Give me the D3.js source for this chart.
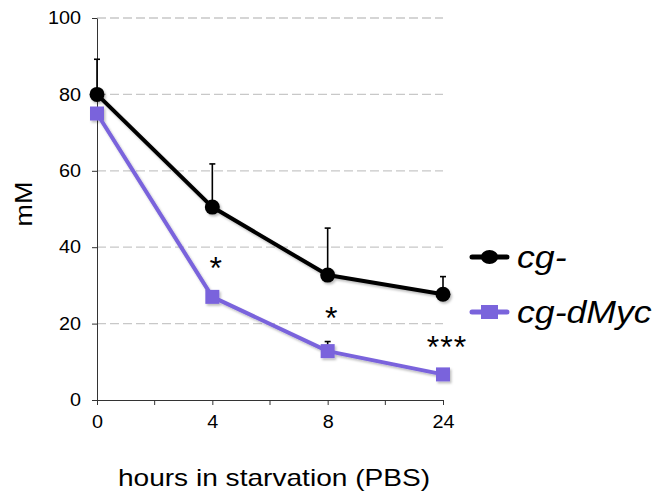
<!DOCTYPE html>
<html>
<head>
<meta charset="utf-8">
<script src="https://cdn.jsdelivr.net/npm/d3@7"></script>
<style>
  body { margin: 0; background: #fff; }
  text { font-family: "Liberation Sans", Arial, Helvetica, sans-serif; fill: #000; }
</style>
</head>
<body>
<svg id="chart" width="659" height="498"></svg>
<script>
// data
var hours = ["0", "4", "8", "24"];
var cgMean = [80, 50.5, 32.7, 27.7];
var cgErr = [9.2, 11.3, 12.3, 4.6];
var mycMean = [75, 27, 12.8, 6.7];
var mycErr = [1, 1.2, 2.5, 1];
var sigMarks = ["", "*", "*", "***"];
var yTicks = [0, 20, 40, 60, 80, 100];
var seriesNames = ["cg-", "cg-dMyc"];

var PURPLE = "#7a64dc";
var svg = d3.select("#chart");

// text in the original looks a bit wider than plain Arial
function stretch(sel, k) {
  sel.each(function() {
    var w = this.getComputedTextLength();
    d3.select(this).attr("textLength", w * k).attr("lengthAdjust", "spacingAndGlyphs");
  });
}

var x = d3.scalePoint().domain(hours).range([97, 443]);
var y = d3.scaleLinear().domain([0, 100]).range([400, 18]);

var defs = svg.append("defs");
var f = defs.append("filter").attr("id", "shadow")
  .attr("x", "-20%").attr("y", "-20%").attr("width", "140%").attr("height", "140%");
f.append("feDropShadow").attr("dx", 1.5).attr("dy", 2).attr("stdDeviation", 1.2)
  .attr("flood-color", "#000").attr("flood-opacity", 0.25);

// grid
svg.append("g").selectAll("line")
  .data(yTicks.filter(function(d){ return d > 0; }))
  .join("line")
  .attr("x1", x.range()[0]).attr("x2", x.range()[1])
  .attr("y1", function(d){ return y(d); }).attr("y2", function(d){ return y(d); })
  .attr("stroke", "#c8c8c8").attr("stroke-width", 1.3)
  .attr("stroke-dasharray", "9,4");

// y axis
var yAxis = svg.append("g")
  .attr("transform", "translate(" + x.range()[0] + ",0)")
  .call(d3.axisLeft(y).tickValues(yTicks).tickSize(5).tickPadding(11).tickSizeOuter(0));
yAxis.select(".domain").attr("stroke", "#333");
yAxis.selectAll(".tick line").attr("stroke", "#333");
yAxis.selectAll(".tick text").attr("font-size", 18).attr("font-family", null).call(stretch, 1.1);

// x axis, with minor ticks halfway between categories
var xAxis = svg.append("g")
  .attr("transform", "translate(0," + y(0) + ")")
  .call(d3.axisBottom(x).tickSize(5).tickPadding(10).tickSizeOuter(0));
xAxis.select(".domain").attr("stroke", "#333");
xAxis.selectAll(".tick line").attr("stroke", "#333");
xAxis.selectAll(".tick text").attr("font-size", 18).attr("font-family", null).call(stretch, 1.1);
xAxis.selectAll(".minor").data(hours.slice(1)).join("line")
  .attr("class", "minor")
  .attr("x1", function(d, i){ return (x(hours[i]) + x(d)) / 2; })
  .attr("x2", function(d, i){ return (x(hours[i]) + x(d)) / 2; })
  .attr("y1", 0).attr("y2", 5).attr("stroke", "#333");

// axis titles
svg.append("text")
  .attr("transform", "translate(32,204) rotate(-90)")
  .attr("text-anchor", "middle")
  .attr("font-size", 24)
  .text("mM").call(stretch, 1.12);

svg.append("text")
  .attr("x", 274).attr("y", 486)
  .attr("text-anchor", "middle")
  .attr("font-size", 24)
  .text("hours in starvation (PBS)").call(stretch, 1.17);

// error bars (upper only)
function errBars(mean, err) {
  var g = svg.append("g");
  g.selectAll("line.v").data(hours).join("line")
    .attr("class", "v")
    .attr("x1", function(d){ return x(d); }).attr("x2", function(d){ return x(d); })
    .attr("y1", function(d, i){ return y(mean[i]); })
    .attr("y2", function(d, i){ return y(mean[i] + err[i]); })
    .attr("stroke", "#000").attr("stroke-width", 1.6);
  g.selectAll("line.c").data(hours).join("line")
    .attr("class", "c")
    .attr("x1", function(d){ return x(d) - 3; }).attr("x2", function(d){ return x(d) + 3; })
    .attr("y1", function(d, i){ return y(mean[i] + err[i]); })
    .attr("y2", function(d, i){ return y(mean[i] + err[i]); })
    .attr("stroke", "#000").attr("stroke-width", 1.6);
}
errBars(cgMean, cgErr);
errBars(mycMean, mycErr);

var line = d3.line()
  .x(function(d){ return x(d.h); })
  .y(function(d){ return y(d.v); });

function pts(mean) {
  return hours.map(function(h, i){ return { h: h, v: mean[i] }; });
}

// cg-dMyc series
var myc = svg.append("g").attr("filter", "url(#shadow)");
myc.append("path").datum(pts(mycMean))
  .attr("d", line).attr("fill", "none")
  .attr("stroke", PURPLE).attr("stroke-width", 4).attr("stroke-linejoin", "round");
myc.selectAll("rect").data(pts(mycMean)).join("rect")
  .attr("x", function(d){ return x(d.h) - 7; })
  .attr("y", function(d){ return y(d.v) - 7; })
  .attr("width", 14).attr("height", 14)
  .attr("fill", PURPLE);

// cg- series
var cg = svg.append("g").attr("filter", "url(#shadow)");
cg.append("path").datum(pts(cgMean))
  .attr("d", line).attr("fill", "none")
  .attr("stroke", "#000").attr("stroke-width", 4).attr("stroke-linejoin", "round");
cg.selectAll("circle").data(pts(cgMean)).join("circle")
  .attr("cx", function(d){ return x(d.h); })
  .attr("cy", function(d){ return y(d.v); })
  .attr("r", 7.5).attr("fill", "#000");

// significance marks
svg.selectAll("text.sig").data(hours).join("text")
  .attr("class", "sig")
  .attr("x", function(d){ return x(d) + 4; })
  .attr("y", function(d, i){ return y(mycMean[i] + mycErr[i]) - 13; })
  .attr("text-anchor", "middle")
  .attr("font-size", 32)
  .attr("letter-spacing", 1)
  .text(function(d, i){ return sigMarks[i]; });

// legend
var legend = svg.append("g").attr("transform", "translate(472,257)");
var rows = legend.selectAll("g").data(seriesNames).join("g")
  .attr("transform", function(d, i){ return "translate(0," + i * 55 + ")"; });
rows.append("line")
  .attr("x1", 0).attr("x2", 35).attr("y1", 0).attr("y2", 0)
  .attr("stroke", function(d, i){ return i === 0 ? "#000" : PURPLE; })
  .attr("stroke-width", 5).attr("stroke-linecap", "round");
rows.each(function(d, i) {
  var r = d3.select(this);
  if (i === 0) {
    r.append("ellipse").attr("cx", 17.5).attr("cy", 0).attr("rx", 8.5).attr("ry", 7).attr("fill", "#000");
  } else {
    r.append("rect").attr("x", 9).attr("y", -7).attr("width", 17).attr("height", 14).attr("fill", PURPLE);
  }
});
rows.append("text")
  .attr("x", 45).attr("y", 11)
  .attr("font-size", 31)
  .attr("font-style", "italic")
  .text(function(d){ return d; })
  .call(stretch, 1.15);
</script>
</body>
</html>
